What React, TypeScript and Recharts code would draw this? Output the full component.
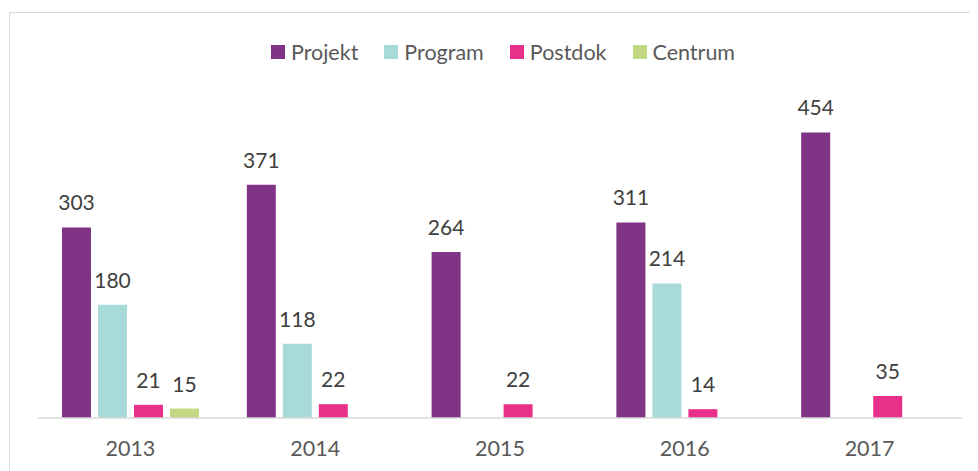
import React from "react";
import { BarChart, Bar, XAxis, YAxis, Legend, LabelList } from "recharts";

const years = ["2013", "2014", "2015", "2016", "2017"];
const projekt = [303, 371, 264, 311, 454];
const program = [180, 118, null, 214, null];
const postdok = [21, 22, 22, 14, 35];
const centrum = [15, null, null, null, null];

const seriesNames = ["Projekt", "Program", "Postdok", "Centrum"];
const seriesColors = ["#7F3486", "#A9DADA", "#E8308A", "#C2D883"];

const data = years.map((y, i) => ({
  year: y,
  Projekt: projekt[i],
  Program: program[i],
  Postdok: postdok[i],
  Centrum: centrum[i],
}));

const renderLegend = () => (
  <div
    style={{
      display: "flex",
      justifyContent: "center",
      alignItems: "center",
      fontFamily: "Lato",
      fontSize: 21.5,
      color: "#595959",
      paddingLeft: 20,
    }}
  >
    {seriesNames.map((n, i) => (
      <div
        key={n}
        style={{
          display: "flex",
          alignItems: "center",
          marginRight: i < seriesNames.length - 1 ? 26 : 0,
        }}
      >
        <span
          style={{
            display: "inline-block",
            width: 14,
            height: 14,
            background: seriesColors[i],
            marginRight: 6,
          }}
        />
        <span style={{ lineHeight: "20px" }}>{n}</span>
      </div>
    ))}
  </div>
);

export default function App() {
  return (
    <div
      style={{
        position: "relative",
        width: 970,
        height: 463,
        overflow: "hidden",
        fontFamily: "Lato",
        background: "#fff",
      }}
    >
      <div
        style={{
          position: "absolute",
          left: 1,
          top: 4,
          width: 2000,
          height: 1000,
          border: "1px solid #d9d9d9",
          boxSizing: "border-box",
        }}
      />
      <BarChart
        width={970}
        height={463}
        data={data}
        margin={{ top: 95.5, right: 16, bottom: 0, left: 30 }}
        barCategoryGap={24}
        barGap={7}
      >
        <XAxis
          dataKey="year"
          height={53}
          axisLine={{ stroke: "#d9d9d9", strokeWidth: 1.5 }}
          tickLine={false}
          tickSize={0}
          tickMargin={23}
          tick={{ fill: "#595959", fontSize: 21.5, fontFamily: "Lato" }}
        />
        <YAxis hide domain={[0, 500]} />
        <Legend
          verticalAlign="middle"
          content={renderLegend}
          wrapperStyle={{ top: 34, left: 0, width: 970 }}
        />
        {seriesNames.map((n, i) => (
          <Bar key={n} dataKey={n} fill={seriesColors[i]} isAnimationActive={false}>
            <LabelList
              dataKey={n}
              position="top"
              offset={17}
              fill="#404040"
              fontSize={21}
              fontFamily="Lato"
            />
          </Bar>
        ))}
      </BarChart>
    </div>
  );
}
